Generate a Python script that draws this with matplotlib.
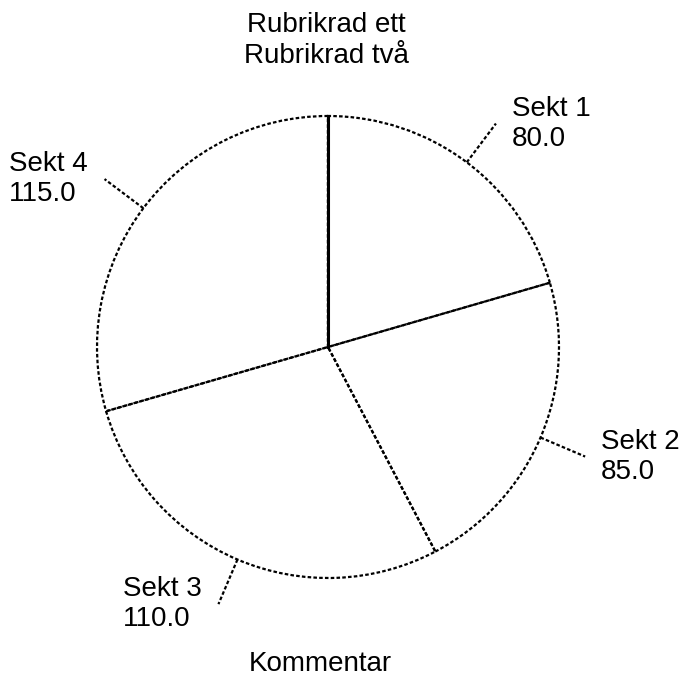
import matplotlib.pyplot as plt
import numpy as np

plt.rcParams['font.family'] = ['Liberation Sans', 'DejaVu Sans']

sectors = ['Sekt 1', 'Sekt 2', 'Sekt 3', 'Sekt 4']
values = [80.0, 85.0, 110.0, 115.0]
title_lines = ['Rubrikrad ett', 'Rubrikrad två']
comment = 'Kommentar'

W, H = 684, 679
fig = plt.figure(figsize=(W / 100, H / 100), dpi=100)
ax = fig.add_axes([0, 0, 1, 1])

# pie centre and radius in pixels
cx, cy, rad = 328, 347, 231

dash = (0, (1.6, 1.0))
wedges, _ = ax.pie(values, startangle=90, counterclock=False, radius=1.0,
                   wedgeprops=dict(fill=False, edgecolor='black',
                                   linewidth=1.6, linestyle=dash))
ax.set_aspect('auto')
ax.set_xlim(-cx / rad, (W - cx) / rad)
ax.set_ylim(-(H - cy) / rad, cy / rad)
ax.axis('off')

# the starting radius is drawn solid
a0 = np.deg2rad(wedges[0].theta2)
ax.plot([0, np.cos(a0)], [0, np.sin(a0)], color='black', lw=2.2)

# leader lines + labels
for w, name, v in zip(wedges, sectors, values):
    mid = np.deg2rad((w.theta1 + w.theta2) / 2)
    r0, r1 = 1.0, 1.21
    x0, y0 = r0 * np.cos(mid), r0 * np.sin(mid)
    x1, y1 = r1 * np.cos(mid), r1 * np.sin(mid)
    ax.plot([x0, x1], [y0, y1], color='black', lw=1.6, linestyle=dash)
    right = x1 > 0
    off = 16 / rad if right else -17 / rad
    ax.text(x1 + off, y1, f'{name}\n{v:.1f}', ha='left' if right else 'right',
            va='center', multialignment='left', fontsize=20, linespacing=1.2)

fig.text(326 / W, 1 - 12 / H, '\n'.join(title_lines), ha='center', va='top',
         fontsize=20, linespacing=1.25)
fig.text(320 / W, 1 - 677 / H, comment, ha='center', va='bottom', fontsize=20)

fig.savefig('out.png', dpi=100, facecolor='white')
